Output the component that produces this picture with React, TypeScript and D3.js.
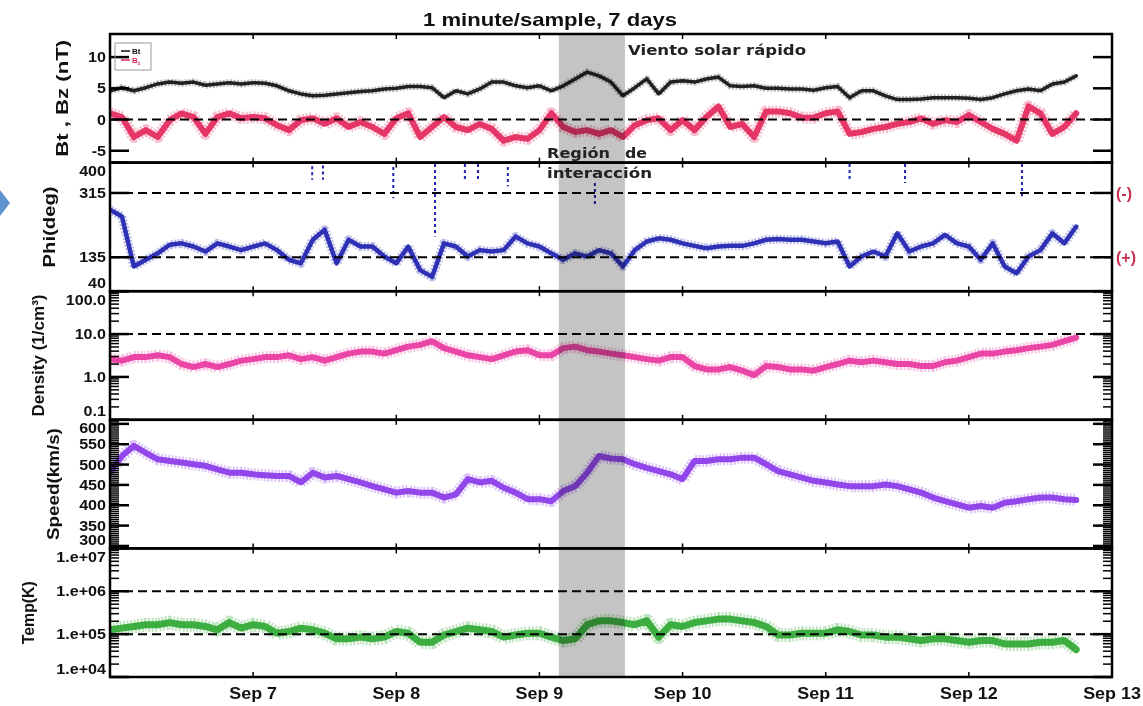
import * as d3 from "d3";

// ---- layout of the stacked panels (page pixels) ----
const W = 1143;
const H = 706;
const LEFT = 110;
const RIGHT = 1112;
const TOP = 34;
const BOTTOM = 677;
const PANEL_H = (BOTTOM - TOP) / 5;

// ---- time axis ----
const startDay = new Date(Date.UTC(2014, 8, 6));
const endDay = new Date(Date.UTC(2014, 8, 13));
const sampleHours = d3.range(0, 164, 2); // one reading every 2 h, 0..162 h
const shadeStart = new Date(Date.UTC(2014, 8, 9, 3, 15));
const shadeEnd = new Date(Date.UTC(2014, 8, 9, 14, 20));

// ---- series ----
const btValues = [
  4.6, 5.1, 4.6, 5.1, 5.7, 6.0, 5.8, 6.0, 5.5, 5.7,
  5.9, 5.7, 5.9, 5.8, 5.4, 4.6, 4.1, 3.8, 3.9, 4.1,
  4.3, 4.5, 4.6, 4.9, 5.0, 5.3, 5.3, 5.1, 3.5, 4.6,
  4.1, 4.9, 6.0, 6.0, 5.4, 5.1, 5.4, 4.6, 5.4, 6.5,
  7.6, 7.0, 6.0, 3.8, 5.1, 6.5, 4.1, 6.0, 6.2, 6.0,
  6.5, 6.8, 5.4, 5.3, 5.4, 5.0, 5.0, 4.9, 4.9, 4.7,
  5.1, 5.3, 3.5, 4.6, 4.6, 3.8, 3.2, 3.2, 3.3, 3.5,
  3.5, 3.5, 3.4, 3.2, 3.5, 4.1, 4.6, 4.9, 4.6, 5.7,
  6.0, 7.0,
];
const bzValues = [
  1.0, 0.4, -2.8, -1.7, -2.8, -0.1, 1.0, 0.4, -2.3, 0.4,
  1.0, 0.2, 0.4, 0.2, -0.9, -1.7, -0.1, 0.2, -0.7, 0.2,
  -1.2, -0.4, -1.2, -2.3, 0.2, 1.0, -2.8, -1.2, 0.4, -1.2,
  -1.7, -0.7, -1.5, -3.4, -2.8, -3.1, -1.7, 1.0, -1.2, -2.0,
  -1.7, -2.3, -1.7, -2.8, -0.9, -0.1, 0.2, -1.7, -0.1, -1.7,
  0.4, 2.1, -1.2, -0.7, -2.8, 1.3, 1.3, 1.0, 0.3, 0.3,
  1.0, 1.3, -2.3, -2.0, -1.5, -1.2, -0.7, -0.4, 0.2, -0.7,
  -0.1, -0.4, 0.7, -0.4, -1.5, -2.3, -3.4, 2.1, 1.0, -2.3,
  -1.2, 1.0,
];
const phiValues = [
  268, 249, 109, 128, 146, 170, 174, 165, 151, 174,
  165, 155, 165, 174, 155, 128, 118, 184, 212, 118,
  184, 165, 165, 137, 118, 165, 99, 80, 174, 165,
  137, 155, 151, 155, 193, 174, 165, 146, 128, 146,
  137, 155, 146, 109, 155, 179, 188, 184, 174, 167,
  160, 165, 167, 167, 174, 184, 186, 184, 184, 179,
  174, 179, 109, 137, 151, 137, 202, 151, 165, 174,
  198, 174, 165, 128, 174, 109, 90, 137, 155, 202,
  174, 221,
];
// short vertical bursts of Phi readings (hour, upper, lower)
const phiBurstHours = [33.9, 35.7, 47.5, 54.5, 59.5, 61.7, 66.7, 81.3, 124, 133.3, 152.9];
const phiBurstTop = [390, 392, 388, 396, 396, 396, 388, 343, 396, 396, 396];
const phiBurstLow = [352, 352, 300, 193, 349, 349, 334, 277, 352, 343, 306];

const densityValues = [
  2.6, 2.4, 2.9, 2.9, 3.2, 2.9, 2.0, 1.7, 2.0, 1.7,
  2.0, 2.4, 2.6, 2.9, 2.9, 3.2, 2.6, 2.9, 2.4, 2.9,
  3.5, 3.9, 3.9, 3.5, 4.2, 5.1, 5.6, 6.8, 4.7, 3.9,
  3.2, 2.9, 2.6, 3.2, 3.9, 4.2, 3.2, 3.2, 4.7, 5.1,
  4.2, 3.9, 3.5, 3.2, 2.9, 2.6, 2.4, 2.9, 2.9, 1.8,
  1.5, 1.5, 1.7, 1.4, 1.1, 1.8, 1.7, 1.5, 1.5, 1.4,
  1.7, 2.0, 2.4, 2.2, 2.4, 2.2, 2.0, 2.0, 1.8, 1.8,
  2.2, 2.4, 2.9, 3.5, 3.5, 3.9, 4.2, 4.7, 5.1, 5.6,
  6.8, 8.3,
];
const speedValues = [
  480, 521, 546, 529, 513, 509, 505, 501, 497, 488,
  480, 480, 476, 474, 472, 472, 456, 480, 468, 472,
  464, 456, 447, 439, 431, 435, 431, 431, 419, 427,
  464, 456, 460, 443, 431, 415, 415, 410, 435, 447,
  480, 521, 515, 513, 501, 492, 484, 476, 464, 509,
  509, 513, 513, 517, 517, 501, 484, 476, 468, 460,
  456, 451, 447, 447, 447, 451, 447, 439, 431, 419,
  410, 402, 394, 398, 394, 406, 410, 415, 419, 419,
  415, 413,
];
const tempValues = [
  1.26e5, 1.38e5, 1.51e5, 1.66e5, 1.66e5, 1.86e5, 1.66e5, 1.66e5, 1.51e5, 1.26e5,
  1.86e5, 1.38e5, 1.66e5, 1.51e5, 1.05e5, 1.15e5, 1.38e5, 1.26e5, 1.05e5, 7.76e4,
  7.76e4, 8.51e4, 7.76e4, 8.51e4, 1.15e5, 1.05e5, 6.46e4, 6.46e4, 9.55e4, 1.15e5,
  1.38e5, 1.26e5, 1.15e5, 8.51e4, 9.55e4, 1.05e5, 1.05e5, 8.51e4, 7.08e4, 7.76e4,
  1.66e5, 2.04e5, 2.04e5, 1.86e5, 1.66e5, 2.04e5, 8.51e4, 1.66e5, 1.51e5, 1.86e5,
  2.04e5, 2.24e5, 2.24e5, 2.04e5, 1.86e5, 1.51e5, 9.55e4, 9.55e4, 1.05e5, 1.05e5,
  1.05e5, 1.26e5, 1.15e5, 9.55e4, 9.55e4, 8.51e4, 8.51e4, 7.76e4, 7.08e4, 7.76e4,
  7.76e4, 7.08e4, 6.46e4, 7.08e4, 7.08e4, 5.89e4, 5.89e4, 5.89e4, 6.46e4, 6.46e4,
  7.08e4, 4.36e4,
];

// ---- tick labels ----
const btTicks = [10, 5, 0, -5];
const btLabels = ["10", "5", "0", "-5"];
const phiTicks = [400, 315, 135, 40];
const phiLabels = ["400", "315", "135", "40"];
const densityTicks = [100, 10, 1, 0.1];
const densityLabels = ["100.0", "10.0", "1.0", "0.1"];
const speedTicks = [600, 550, 500, 450, 400, 350, 300];
const speedLabels = ["600", "550", "500", "450", "400", "350", "300"];
const tempTicks = [1e7, 1e6, 1e5, 1e4];
const tempLabels = ["1.e+07", "1.e+06", "1.e+05", "1.e+04"];

const x = d3.scaleUtc().domain([startDay, endDay]).range([LEFT, RIGHT]);
const tAt = (h: number) => new Date(startDay.getTime() + h * 3600e3);
const dayTicks = x.ticks(d3.utcDay.every(1)!).slice(1);
const fmtDay = d3.utcFormat("%b %-d");

const FONT = "'Liberation Sans', Arial, sans-serif";
const DEJAVU = "'DejaVu Sans', sans-serif";

type Series = { values: number[]; color: string; width: number };
type Panel = {
  title: string;
  titleX: number;
  titleLen: number;
  y: any;
  major: number[];
  labels: string[];
  minor: number[];
  dashed: number[];
  series: Series[];
};

function panelRange(i: number): [number, number] {
  const top = TOP + i * PANEL_H;
  return [top + PANEL_H, top];
}

const yBt = d3.scaleLinear().domain([-6.9, 13.7]).range(panelRange(0));
const yPhi = d3.scaleLinear().domain([40, 400]).range(panelRange(1));
const yDen = d3.scaleLog().domain([0.1, 100]).range(panelRange(2));
const ySpd = d3.scaleLinear().domain([294, 610]).range(panelRange(3));
const yTmp = d3.scaleLog().domain([1e4, 1e7]).range(panelRange(4));

const panels: Panel[] = [
  {
    title: "Bt , Bz (nT)", titleX: 62, titleLen: 117, y: yBt,
    major: btTicks, labels: btLabels, minor: [], dashed: [0],
    series: [
      { values: bzValues, color: "#e3285c", width: 6 },
      { values: btValues, color: "#111111", width: 3.5 },
    ],
  },
  {
    title: "Phi(deg)", titleX: 49, titleLen: 81, y: yPhi,
    major: phiTicks, labels: phiLabels, minor: [], dashed: [315, 135],
    series: [{ values: phiValues, color: "#1f23b0", width: 4.5 }],
  },
  {
    title: "Density (1/cm³)", titleX: 38, titleLen: 122, y: yDen,
    major: densityTicks, labels: densityLabels,
    minor: yDen.ticks().filter((t: number) => !densityTicks.includes(t)),
    dashed: [10],
    series: [{ values: densityValues, color: "#e838a0", width: 6 }],
  },
  {
    title: "Speed(km/s)", titleX: 53, titleLen: 112, y: ySpd,
    major: speedTicks, labels: speedLabels,
    minor: ySpd.ticks(60).filter((t: number) => t % 50 !== 0),
    dashed: [],
    series: [{ values: speedValues, color: "#8a3ae8", width: 6 }],
  },
  {
    title: "Temp(K)", titleX: 28, titleLen: 63, y: yTmp,
    major: tempTicks, labels: tempLabels,
    minor: yTmp.ticks().filter((t: number) => !tempTicks.includes(t)),
    dashed: [1e6, 1e5],
    series: [{ values: tempValues, color: "#2fa833", width: 7 }],
  },
];

// keep edge labels inside their own panel, like the original plot does
function labelY(py: number, top: number, bottom: number) {
  return Math.min(Math.max(py, top + 8.5), bottom - 8.5);
}

function PanelView({ p, i }: { p: Panel; i: number }) {
  const top = TOP + i * PANEL_H;
  const bottom = top + PANEL_H;
  const clipId = `clip-${i}`;
  const line = d3
    .line<number>()
    .x((_, k) => x(tAt(sampleHours[k])))
    .y((d) => p.y(d));

  return (
    <g>
      <clipPath id={clipId}>
        <rect x={LEFT} y={top} width={RIGHT - LEFT} height={PANEL_H} />
      </clipPath>
      <g clipPath={`url(#${clipId})`}>
        {p.series.map((s, k) => (
          <g key={k}>
            {/* fuzzy halo for the 1-minute scatter */}
            <path
              d={line(s.values) || ""}
              fill="none"
              stroke={s.color}
              strokeWidth={s.width * 2}
              strokeLinejoin="round"
              strokeDasharray="2,1.5"
              opacity={0.3}
            />
            <path
              d={line(s.values) || ""}
              fill="none"
              stroke={s.color}
              strokeWidth={s.width}
              strokeLinejoin="round"
              strokeLinecap="round"
              opacity={0.92}
            />
          </g>
        ))}
        {i === 1 &&
          phiBurstHours.map((h, k) => (
            <line
              key={k}
              x1={x(tAt(h))}
              x2={x(tAt(h))}
              y1={p.y(phiBurstTop[k])}
              y2={p.y(phiBurstLow[k])}
              stroke="#1f23b0"
              strokeWidth={2}
              strokeDasharray="3,3"
            />
          ))}
        {p.dashed.map((v, k) => (
          <line
            key={k}
            x1={LEFT}
            x2={RIGHT}
            y1={p.y(v)}
            y2={p.y(v)}
            stroke="#000"
            strokeWidth={2}
            strokeDasharray="9,5"
          />
        ))}
      </g>

      {/* y ticks, both sides, inward */}
      {p.major.map((v, k) => (
        <g key={`M${k}`}>
          <line x1={LEFT} x2={LEFT + 19} y1={p.y(v)} y2={p.y(v)} stroke="#000" strokeWidth={2.5} />
          <line x1={RIGHT - 19} x2={RIGHT} y1={p.y(v)} y2={p.y(v)} stroke="#000" strokeWidth={2.5} />
        </g>
      ))}
      {p.minor.map((v, k) => (
        <g key={`m${k}`}>
          <line x1={LEFT} x2={LEFT + 9} y1={p.y(v)} y2={p.y(v)} stroke="#000" strokeWidth={1.5} />
          <line x1={RIGHT - 9} x2={RIGHT} y1={p.y(v)} y2={p.y(v)} stroke="#000" strokeWidth={1.5} />
        </g>
      ))}
      {/* day ticks on top and bottom edges */}
      {dayTicks.map((d, k) => (
        <g key={`d${k}`}>
          <line x1={x(d)} x2={x(d)} y1={top} y2={top + 5} stroke="#000" strokeWidth={1.5} />
          <line x1={x(d)} x2={x(d)} y1={bottom - 5} y2={bottom} stroke="#000" strokeWidth={1.5} />
        </g>
      ))}

      {/* tick labels */}
      {p.major.map((v, k) => (
        <text
          key={`l${k}`}
          transform={`translate(106,${labelY(p.y(v), top, bottom)}) scale(1.15,1)`}
          dy="0.36em"
          textAnchor="end"
          fontFamily={FONT}
          fontWeight="bold"
          fontSize={14}
          fill="#111"
        >
          {p.labels[k]}
        </text>
      ))}

      {/* rotated axis title */}
      <text
        transform={`translate(${p.titleX},${(top + bottom) / 2}) rotate(-90)`}
        dy="0.36em"
        textAnchor="middle"
        fontFamily={FONT}
        fontWeight="bold"
        fontSize={17}
        textLength={p.titleLen}
        lengthAdjust="spacingAndGlyphs"
        fill="#111"
      >
        {p.title}
      </text>

      <rect x={LEFT} y={top} width={RIGHT - LEFT} height={PANEL_H} fill="none" stroke="#000" strokeWidth={2.5} />
    </g>
  );
}

export default function App() {
  return (
    <svg
      width={W}
      height={H}
      viewBox={`0 0 ${W} ${H}`}
      style={{ position: "absolute", left: 0, top: 0, background: "#fff" }}
    >
      <rect width={W} height={H} fill="#fff" />

      {/* slide arrow at the left edge */}
      <polygon points="0,190 10,203 0,216" fill="#5e95cf" />

      <text
        x={550}
        y={26}
        textAnchor="middle"
        fontFamily={FONT}
        fontWeight="bold"
        fontSize={19}
        textLength={254}
        lengthAdjust="spacingAndGlyphs"
        fill="#111"
      >
        1 minute/sample, 7 days
      </text>

      {panels.map((p, i) => (
        <PanelView key={i} p={p} i={i} />
      ))}

      {/* shaded interaction region */}
      <rect
        x={x(shadeStart)}
        y={TOP}
        width={x(shadeEnd) - x(shadeStart)}
        height={BOTTOM - TOP}
        fill="#c4c4c4"
        style={{ mixBlendMode: "multiply" }}
      />

      {/* legend of the first panel */}
      <rect x={115} y={43} width={36} height={27} fill="none" stroke="#999" strokeWidth={1} />
      <line x1={121} x2={130} y1={51} y2={51} stroke="#111" strokeWidth={1.5} />
      <text x={132} y={54} fontFamily={FONT} fontWeight="bold" fontSize={8} fill="#111">Bt</text>
      <line x1={121} x2={130} y1={60} y2={60} stroke="#e3285c" strokeWidth={1.5} />
      <text x={132} y={63} fontFamily={FONT} fontWeight="bold" fontSize={8} fill="#e3285c">
        B<tspan fontSize={5} dy={2}>z</tspan>
      </text>

      {/* annotations */}
      <text x={628} y={55} fontFamily={DEJAVU} fontWeight="bold" fontSize={14} textLength={178} lengthAdjust="spacingAndGlyphs" fill="#222">
        Viento solar rápido
      </text>
      <text x={547} y={158} fontFamily={DEJAVU} fontWeight="bold" fontSize={14} textLength={63} lengthAdjust="spacingAndGlyphs" fill="#222">
        Región
      </text>
      <text x={625} y={158} fontFamily={DEJAVU} fontWeight="bold" fontSize={14} textLength={22} lengthAdjust="spacingAndGlyphs" fill="#222">
        de
      </text>
      <text x={547} y={178} fontFamily={DEJAVU} fontWeight="bold" fontSize={14} textLength={105} lengthAdjust="spacingAndGlyphs" fill="#222">
        interacción
      </text>
      <text x={1116} y={yPhi(315)} dy="0.36em" fontFamily={FONT} fontWeight="bold" fontSize={16} fill="#c8304f">(-)</text>
      <text x={1116} y={yPhi(135)} dy="0.36em" fontFamily={FONT} fontWeight="bold" fontSize={16} fill="#c8304f">(+)</text>

      {/* date labels */}
      {dayTicks.map((d, k) => (
        <text
          key={k}
          transform={`translate(${x(d)},699) scale(1.12,1)`}
          textAnchor="middle"
          fontFamily={FONT}
          fontWeight="bold"
          fontSize={16}
          fill="#111"
        >
          {fmtDay(d)}
        </text>
      ))}
    </svg>
  );
}
